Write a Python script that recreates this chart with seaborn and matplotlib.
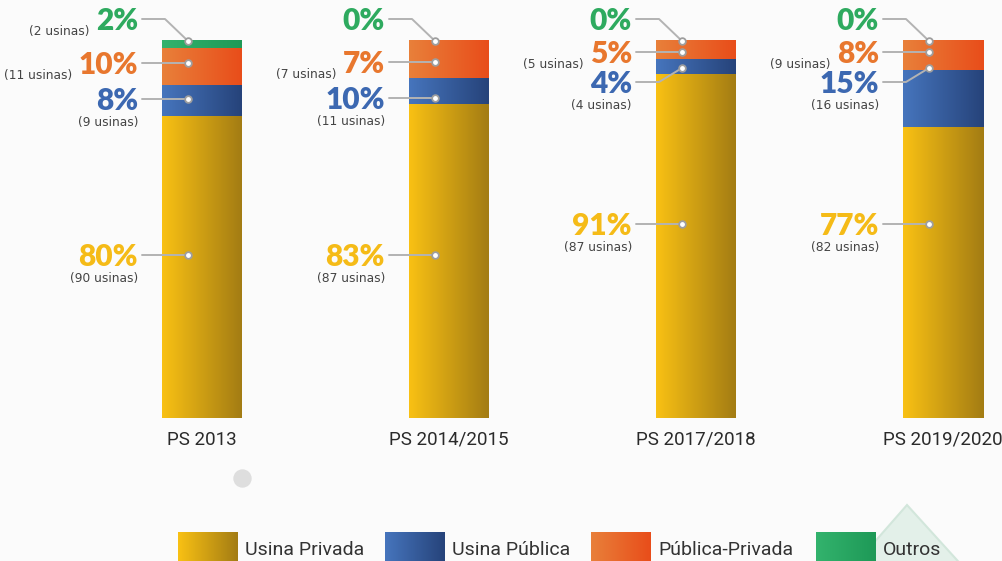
import numpy as np
import pandas as pd
import matplotlib
matplotlib.use("Agg")
import matplotlib.pyplot as plt
import seaborn as sns
from matplotlib.colors import LinearSegmentedColormap
from matplotlib.patches import Polygon

# ---------------- data ----------------
periods = ["PS 2013", "PS 2014/2015", "PS 2017/2018", "PS 2019/2020"]
series = ["Usina Privada", "Usina Pública", "Pública-Privada", "Outros"]

# segment heights (% of plants) as drawn, bottom to top
privada = [80, 83, 91, 77]
publica = [8, 7, 4, 15]
pub_priv = [10, 10, 5, 8]
outros = [2, 0, 0, 0]

# label texts
pct_privada = [80, 83, 91, 77]
pct_publica = [8, 10, 4, 15]
pct_pubpriv = [10, 7, 5, 8]
pct_outros = [2, 0, 0, 0]
n_privada = [90, 87, 87, 82]
n_publica = [9, 11, 4, 16]
n_pubpriv = [11, 7, 5, 9]
n_outros = [2, None, None, None]

# ---------------- style ----------------
BG = "#fbfbfb"
W, H = 1003, 561
grad = {
    "Usina Privada": ("#f9c114", "#a37c13"),
    "Usina Pública": ("#4675bd", "#26437a"),
    "Pública-Privada": ("#e8803a", "#e94d1a"),
    "Outros": ("#33b36d", "#1e9957"),
}
txtcol = {
    "Usina Privada": "#f5bb17",
    "Usina Pública": "#3c68b1",
    "Pública-Privada": "#e8772e",
    "Outros": "#2eaa5f",
}

sns.set_theme(style="white")
plt.rcParams["font.family"] = ["Lato", "DejaVu Sans"]

fig = plt.figure(figsize=(W / 100, H / 100), dpi=100)
fig.patch.set_facecolor(BG)
ax = fig.add_axes([0, 0, 1, 1])
ax.set_facecolor(BG)

# pixel geometry -> data limits
C0, STEP = 202.0, 247.0          # first bar center & spacing in px
BOT, TOP = 418.0, 40.0           # px of 0% and 100%
PPV = (BOT - TOP) / 100.0        # px per percent
XL = (-C0 / STEP, (W - C0) / STEP)
YL = (-(H - BOT) / PPV, 100 + TOP / PPV)
BAR_W = 80 / STEP


def px2d(px, py):
    return XL[0] + px / W * (XL[1] - XL[0]), YL[1] - py / H * (YL[1] - YL[0])


def cmap_for(name):
    return LinearSegmentedColormap.from_list(name, list(grad[name]))


gimg = np.linspace(0, 1, 256).reshape(1, -1)

df = pd.DataFrame({"period": periods})
df["c_priv"] = np.array(privada)
df["c_pub"] = df["c_priv"] + np.array(publica)
df["c_pp"] = df["c_pub"] + np.array(pub_priv)
df["c_out"] = df["c_pp"] + np.array(outros)

layers = [("c_out", "Outros"), ("c_pp", "Pública-Privada"),
          ("c_pub", "Usina Pública"), ("c_priv", "Usina Privada")]
for z, (col, name) in enumerate(layers, start=1):
    nb = len(ax.patches)
    sns.barplot(data=df, x="period", y=col, order=periods, color=grad[name][0],
                width=BAR_W, saturation=1, ax=ax, zorder=z)
    for p in ax.patches[nb:]:
        x0, y0 = p.get_x(), p.get_y()
        w, h = p.get_width(), p.get_height()
        p.set_facecolor("none")
        p.set_edgecolor("none")
        if h <= 0:
            continue
        im = ax.imshow(gimg, extent=[x0, x0 + w, y0, y0 + h], aspect="auto",
                       cmap=cmap_for(name), zorder=z, interpolation="bicubic")
        im.set_clip_path(p)

# ---------------- annotations ----------------
LINE_C = "#b3b3b3"
SMALL_C = "#444444"
SMALL_FONT = dict(fontsize=8.8, color=SMALL_C, family=["DejaVu Sans"])
# per bar: series -> (line y px, dot y px, mode, elbow)
layout = [
    {"Outros": (19, 41, "left", True), "Pública-Privada": (63, 63, "left", False),
     "Usina Pública": (99, 99, "below", False), "Usina Privada": (255, 255, "below", False)},
    {"Outros": (19, 41, "left", True), "Pública-Privada": (62, 62, "left", False),
     "Usina Pública": (98, 98, "below", False), "Usina Privada": (255, 255, "below", False)},
    {"Outros": (19, 41, "left", True), "Pública-Privada": (52, 52, "left", False),
     "Usina Pública": (82, 68, "below", True), "Usina Privada": (224, 224, "below", False)},
    {"Outros": (19, 41, "left", True), "Pública-Privada": (52, 52, "left", False),
     "Usina Pública": (82, 68, "below", True), "Usina Privada": (224, 224, "below", False)},
]
pct_map = {"Usina Privada": pct_privada, "Usina Pública": pct_publica,
           "Pública-Privada": pct_pubpriv, "Outros": pct_outros}
n_map = {"Usina Privada": n_privada, "Usina Pública": n_publica,
         "Pública-Privada": n_pubpriv, "Outros": n_outros}

for i, per in enumerate(periods):
    c = C0 + i * STEP
    for name, (ly, dy, mode, elbow) in layout[i].items():
        dotx = c - 14
        if elbow:
            pts = [(c - 60, ly), (c - 37, ly), (dotx, dy)]
        else:
            pts = [(c - 60, ly), (dotx, dy)]
        xs, ys = zip(*[px2d(*q) for q in pts])
        ax.plot(xs, ys, color=LINE_C, lw=1.4, zorder=10, solid_capstyle="round")
        ax.plot([xs[-1]], [ys[-1]], marker="o", ms=4.8, mfc="white",
                mec="#9e9e9e", mew=1.3, zorder=11)
        tx, ty = px2d(c - 64, ly + 11)
        t = ax.text(tx, ty, f"{pct_map[name][i]}%", ha="right", va="baseline",
                    fontsize=21.5, fontweight="heavy", color=txtcol[name],
                    family=["Lato", "DejaVu Sans"], zorder=12)
        n = n_map[name][i]
        if n is None:
            continue
        s = f"({n} usinas)"
        if mode == "left":
            ax.annotate(s, xy=(0, 0), xycoords=t, xytext=(-6, 0),
                        textcoords="offset pixels", ha="right", va="baseline",
                        **SMALL_FONT)
        else:
            sx, sy = px2d(c - 64, ly + 27)
            ax.text(sx, sy, s, ha="right", va="baseline", **SMALL_FONT)
    # category label
    lx, lyy = px2d(c, 445)
    ax.text(lx, lyy, per, ha="center", va="baseline", fontsize=13.5,
            color="#2a2a2a", family=["Roboto", "DejaVu Sans"], fontweight="normal")

# decorative grey dot
gx, gy = px2d(242, 478)
ax.scatter([gx], [gy], s=175, color="#dedede", zorder=5, linewidths=0)

# decorative pale triangle behind legend
tri = [px2d(907, 505), px2d(850, 570), px2d(966, 570)]
ax.add_patch(Polygon(tri, closed=True, facecolor="#e3f0e9", edgecolor="#d2e6db",
                     lw=1.5, zorder=1))

# ---------------- legend ----------------
leg_x = [178, 385, 591, 816]
for name, lx0 in zip(series, leg_x):
    x0, y1 = px2d(lx0, 532)
    x1, y0 = px2d(lx0 + 60, 566)
    ax.imshow(gimg, extent=[x0, x1, y0, y1], aspect="auto", cmap=cmap_for(name),
              zorder=6, interpolation="bicubic")
    tx, ty = px2d(lx0 + 67, 555)
    ax.text(tx, ty, name, ha="left", va="baseline", fontsize=14, color="#333333",
            family=["Roboto", "DejaVu Sans"], fontweight="normal", zorder=7)

ax.set_xlim(*XL)
ax.set_ylim(*YL)
ax.axis("off")
fig.savefig("out.png", dpi=100, facecolor=BG)
